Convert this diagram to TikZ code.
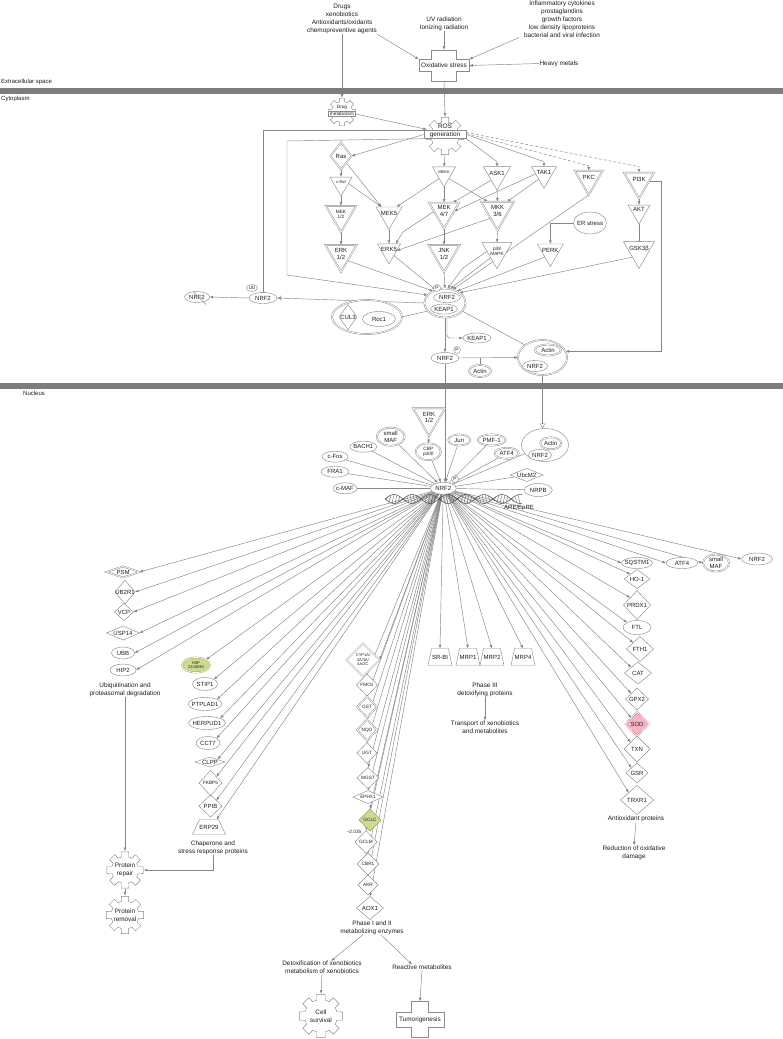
\documentclass[tikz,border=0pt]{standalone}
\usepackage{fontspec}
\setmainfont{Liberation Sans}
\usetikzlibrary{shapes.geometric,arrows.meta,calc}
\definecolor{lnc}{HTML}{858585}
\definecolor{ndc}{HTML}{8C8C8C}
\definecolor{txc}{HTML}{1E1E1E}
\definecolor{barc}{HTML}{7D7D7D}
\definecolor{grf}{HTML}{CBDC90}
\definecolor{grd}{HTML}{A89F50}
\definecolor{pkf}{HTML}{F5B5C3}
\definecolor{pkd}{HTML}{DD7088}
\definecolor{hxc}{HTML}{4A4A4A}
\newcommand{\fntA}{\fontsize{6.4}{8}\selectfont}
\newcommand{\fntB}{\fontsize{6}{6.8}\selectfont}
\newcommand{\fntC}{\fontsize{4}{4.5}\selectfont}
\newcommand{\fntE}{\fontsize{4.7}{5.3}\selectfont}
\newcommand{\fntD}{\fontsize{6}{7}\selectfont}
\pgfdeclarelayer{bg}
\pgfsetlayers{bg,main}
\newcommand{\gnode}[5][]{\node[#2,label={[lb,#1]center:{#5}}] (#3) at (#4) {};}
\newcommand{\mygear}[4]{%
  \draw[gearst] ({#1+#4*cos(-15)},{#2+#4*sin(-15)})
    \foreach \a in {0,45,...,315}{
      -- ({#1+#4*cos(\a-15)},{#2+#4*sin(\a-15)})
      -- ({#1+#3*cos(\a-11)},{#2+#3*sin(\a-11)})
      -- ({#1+#3*cos(\a+11)},{#2+#3*sin(\a+11)})
      -- ({#1+#4*cos(\a+15)},{#2+#4*sin(\a+15)})
    } -- cycle;}
\newcommand{\mycross}[6]{%
  \draw[gearst] ({#1-#5},{#2-#6}) -- ({#1+#5},{#2-#6}) -- ({#1+#5},{#2-#4}) -- ({#1+#3},{#2-#4}) -- ({#1+#3},{#2+#4}) -- ({#1+#5},{#2+#4}) -- ({#1+#5},{#2+#6}) -- ({#1-#5},{#2+#6}) -- ({#1-#5},{#2+#4}) -- ({#1-#3},{#2+#4}) -- ({#1-#3},{#2-#4}) -- ({#1-#5},{#2-#4}) -- cycle;}
\begin{document}
\begin{tikzpicture}[x=1pt,y=-1pt,
  nd/.style={draw=ndc, fill=white, line width=0.45pt, inner sep=0pt, outer sep=0pt},
  el/.style 2 args={nd, ellipse, minimum width=#1pt, minimum height=#2pt},
  dbl/.style={double=white, double distance=0.75pt},
  del/.style 2 args={el={#1}{#2}, dbl},
  tri/.style={nd, regular polygon, regular polygon sides=3, shape border rotate=180, minimum size=#1pt},
  dtri/.style={tri=#1, dbl},
  dia/.style 2 args={nd, diamond, minimum width=#1pt, minimum height=#2pt},
  ddia/.style 2 args={dia={#1}{#2}, dbl},
  trap/.style n args={3}{nd, trapezium, inner sep=1pt, trapezium left angle=#3, trapezium right angle=#3, trapezium stretches=true, minimum width=#1pt, minimum height=#2pt},
  pc/.style={nd, circle, minimum size=#1pt},
  lb/.style={font=\fntB, text=txc, inner sep=0pt, align=center},
  txt/.style={font=\fntA, text=txc, inner sep=0pt, align=center},
  inv/.style={circle, inner sep=0pt, minimum size=#1pt},
  gearst/.style={draw=ndc, fill=white, line width=0.45pt},
  ln/.style={draw=lnc, line width=0.45pt},
  arr/.style={ln, -{Latex[length=3.6pt,width=2.8pt]}},
  inh/.style={ln, -{Bar[width=5pt,line width=0.7pt]}},
  arrbar/.style={ln, -{Bar[width=5pt,line width=0.6pt] Latex[length=3.6pt,width=2.8pt]}},
  otri/.style={ln, -{Triangle[open,length=5pt,width=5pt]}},
  dsh/.style={dash pattern=on 3pt off 2pt},
  hx/.style={draw=hxc, line width=0.5pt}
]
\useasboundingbox (0,0) rectangle (783,1039);

% ---------- membranes ----------
\fill[barc] (0,87.5) rectangle (783,93.5);
\fill[barc] (0,382.5) rectangle (783,388.5);
\node[anchor=west, font=\fntD, text=txc, inner sep=0pt] (lex) at (1,82) {Extracellular space};
\node[anchor=west, font=\fntD, text=txc, inner sep=0pt] (lcy) at (1,99) {Cytoplasm};
\node[anchor=west, font=\fntD, text=txc, inner sep=0pt] (lnu) at (23,393) {Nucleus};

% ---------- top ----------
\node[txt] (drugs) at (342,19) {Drugs\\xenobiotics\\Antioxidants/oxidants\\chemopreventive agents};
\node[txt] (uv) at (444,24) {UV radiation\\Ionizing radiation};
\node[txt] (infl) at (562,19) {Inflammatory cytokines\\prostaglandins\\growth factors\\low density lipoproteins\\bacterial and viral infection};
\node[txt] (heavy) at (559,63.5) {Heavy metals};
\mycross{444}{65.5}{25}{6}{12.5}{15.5}
\node[txt, minimum width=50pt, minimum height=12pt] (ox) at (444,65.5) {Oxidative stress};

\mygear{342}{112}{14}{10.5}
\node[inv=28] (drugm) at (342,112) {};
\node[txt, font=\fntE] (drugt) at (342,107.5) {Drug};
\node[txt, font=\fntE, draw=ndc, fill=white, inner xsep=1.5pt, inner ysep=0.6pt] (drugmb) at (342,114) {metabolism};

\mygear{445}{136}{19}{14}
\node[inv=38] (rosg) at (445,136) {};
\node[txt] (rost) at (445,126.5) {ROS};
\node[txt, draw=ndc, fill=white, inner xsep=6pt, inner ysep=1pt] (rosb) at (445,134.5) {generation};

% ---------- cytoplasm kinases ----------
\gnode{ddia={21}{27}}{ras}{341,156}{Ras}
\gnode[font=\fntC,yshift=1.5pt]{tri=25.4}{craf}{341,183.4}{c-Raf}
\gnode[font=\fntE]{dtri=34.6}{mek12}{341,214.7}{MEK\\1/2}
\gnode{dtri=35.8}{erk12}{341,254}{ERK\\1/2}
\gnode[yshift=1.5pt]{tri=30}{mek5}{389,214.5}{MEK5}
\gnode[yshift=1.5pt]{tri=26.6}{erk5}{389,250.6}{ERK5}
\gnode[font=\fntC,yshift=1.5pt]{tri=26.6}{mekk}{444,173.6}{MEKK}
\gnode{dtri=34.6}{mek47}{444,211.3}{MEK\\4/7}
\gnode{dtri=35.8}{jnk}{444,254}{JNK\\1/2}
\gnode[yshift=1.5pt]{tri=31.2}{ask1}{497,174.5}{ASK1}
\gnode{dtri=38.1}{mkk36}{497.5,211.2}{MKK\\3/6}
\gnode[font=\fntE]{tri=34.6}{p38}{497,251.3}{p38\\MAPK}
\gnode[yshift=1.5pt]{tri=28.9}{tak1}{544,173.9}{TAK1}
\gnode[yshift=1.5pt]{dtri=32.3}{pkc}{588.7,178.8}{PKC}
\gnode[yshift=1.5pt]{dtri=34.6}{pi3k}{639,181.3}{PI3K}
\gnode[yshift=1.5pt]{tri=25.4}{akt}{639,211.4}{AKT}
\gnode[yshift=1.5pt]{tri=35.8}{gsk}{639,250.6}{GSK3β}
\gnode[yshift=1.5pt]{tri=30}{perk}{550.3,251.5}{PERK}
\gnode{el={33}{22}}{ers}{590,223}{ER stress}

% ---------- complexes ----------
\gnode{el={28}{11}}{nrf2ub}{263,298}{NRF2}
\gnode[font=\fntE]{el={11}{7}}{ub}{252,288}{Ub}
\gnode{el={25}{11}}{nrf2x}{197,297}{NRF2}
\draw[ndc, line width=0.45pt] ([xshift=-4pt]nrf2x.north) -- ([xshift=9pt,yshift=-2pt]nrf2x.south);
\node[del={41}{29}] (cplx) at (445,303) {};
\gnode{el={27}{10}}{keapin}{444,309}{KEAP1}
\gnode{el={27}{10}}{nrf2in}{447,297.5}{NRF2}
\gnode[font=\fntE]{pc=7}{p1}{437,288}{P}
\node[del={70}{34}] (cul3c) at (367,317) {};
\gnode{dia={18}{25}}{cul3}{348,317}{CUL3}
\gnode{el={33}{15}}{roc1}{379,319}{Roc1}
\gnode{el={28}{10}}{keap1f}{477,338}{KEAP1}
\gnode{el={28}{11}}{nrf2p}{445,358}{NRF2}
\gnode[font=\fntE]{pc=7}{p2}{457,350}{P}
\gnode{del={22}{12}}{actin1}{480,371}{Actin}
\node[del={49}{35}] (acomp) at (542.5,357.5) {};
\gnode{del={26}{11}}{actin2}{548,350}{Actin}
\gnode{el={25}{11}}{nrf2c}{535,366}{NRF2}

% ---------- nucleus ----------
\gnode{dtri=37}{erkn}{429,417.5}{ERK\\1/2}
\gnode[font=\fntE]{del={25}{17}}{cbp}{428.3,451.7}{CBP\\p300}
\gnode{del={28}{18}}{smaf}{390.7,436.7}{small\\MAF}
\gnode{el={27}{11}}{bach1}{363.3,446.7}{BACH1}
\gnode{el={26}{11}}{cfos}{335,456.7}{c-Fos}
\gnode{el={28}{11}}{fra1}{335,471.7}{FRA1}
\gnode{el={24}{11}}{cmaf}{345,488.3}{c-MAF}
\gnode{del={22}{11}}{jun}{459.3,440}{Jun}
\gnode{del={28}{11}}{pmf1}{491.7,440}{PMF-1}
\gnode{del={24}{11}}{atf4n}{506.7,453.3}{ATF4}
\node[el={47}{33}] (acn) at (545,445) {};
\gnode{del={21}{12}}{actin3}{550.7,443.3}{Actin}
\gnode{el={23}{11}}{nrf2d}{540,455}{NRF2}
\gnode{dia={33}{13}}{ubcm2}{526.7,475}{UbcM2}
\gnode{el={28}{13}}{nrpb}{538.3,490}{NRPB}
\gnode{el={26}{12}}{nrf2n}{443.3,488.3}{NRF2}
\gnode[font=\fntE]{pc=7}{p3}{455,479}{P}

% helix
\draw[hx] plot[domain=385:522, samples=150] (\x,{499+4.5*sin(10*(\x-385))});
\draw[hx] plot[domain=385:522, samples=150] (\x,{499-4.5*sin(10*(\x-385))});
\foreach \xx in {386,389,...,520} {\draw[hx, line width=0.3pt] (\xx,{499+4.5*sin(10*(\xx-385))}) -- (\xx+2,{499-4.5*sin(10*(\xx+2-385))});}
\node[lb] (are) at (519,508) {ARE/EpRE};

% ---------- ubiquitination ----------
\gnode{ddia={33}{11}}{psm}{123,572}{PSM}
\gnode{dia={20}{24}}{ub2r1}{125,592}{UB2R1}
\gnode{dia={19}{17}}{vcp}{124,612}{VCP}
\gnode{dia={33}{14}}{usp14}{123,633}{USP14}
\gnode{el={23}{12}}{ubb}{123,653}{UBB}
\gnode{el={26}{12}}{hip2}{123,670}{HIP2}
\node[txt] (ubt) at (125,690) {Ubiquitination and\\proteasomal degradation};

% ---------- chaperones ----------
\gnode[font=\fntC]{del={28}{15},fill=grf,draw=grd}{hsp}{196,665}{HSP\\22/40/90}
\gnode{el={25}{13}}{stip1}{205,684}{STIP1}
\gnode{el={34}{13}}{ptplad1}{205,704}{PTPLAD1}
\gnode{el={37}{13}}{herpud1}{207,723}{HERPUD1}
\gnode{el={24}{13}}{cct7}{208,743}{CCT7}
\gnode{dia={30}{10}}{clpp}{210,762}{CLPP}
\gnode[font=\fntE]{dia={23}{25}}{fkbp5}{210.5,783}{FKBP5}
\gnode{dia={23}{22}}{ppib}{210.5,806}{PPIB}
\gnode{trap={33}{15}{70}}{erp29}{209,827}{ERP29}
\node[txt] (chapt) at (213,847.5) {Chaperone and\\stress response proteins};

\mygear{125}{870}{18.5}{13.5}
\node[inv=37] (prep) at (125,870) {};
\node[txt] (prept) at (125,870) {Protein\\repair};
\mygear{125}{915}{19}{14}
\node[inv=38] (prem) at (125,915) {};
\node[txt] (premt) at (125,915) {Protein\\removal};

% ---------- phase I/II ----------
\gnode[font=\fntC]{ddia={33}{33}}{cyp}{363,660}{CYP1A/\\2A/3A/\\4A/2C}
\gnode[font=\fntE]{dia={21}{22}}{fmo1}{367,685}{FMO1}
\gnode[font=\fntE]{ddia={20}{21}}{gst}{367,707}{GST}
\gnode[font=\fntE]{ddia={20}{21}}{nqo}{367,730}{NQO}
\gnode[font=\fntE]{dia={20}{21}}{ugt}{367,753}{UGT}
\gnode[font=\fntE]{dia={22}{21}}{mgst}{368,778}{MGST}
\gnode[font=\fntE]{dia={30}{13}}{ephx1}{368,797}{EPHX1}
\gnode[font=\fntE]{dia={22}{22},fill=grf,draw=grd}{gclc}{370,820}{GCLC}
\node[txt, font=\fntE] (fc) at (354,832) {−2.035};
\gnode[font=\fntE]{dia={22}{23}}{gclm}{366,842}{GCLM}
\gnode[font=\fntE]{dia={22}{22}}{cbr1}{368,864}{CBR1}
\gnode[font=\fntE]{dia={20}{20}}{akr}{368,885}{AKR}
\gnode{dia={27}{23}}{aox1}{370,908}{AOX1}
\node[txt] (ph12t) at (372,927.5) {Phase I and II\\metabolizing enzymes};
\node[txt] (detox) at (322,967.5) {Detoxification of xenobiotics\\metabolism of xenobiotics};
\node[txt] (react) at (422,967) {Reactive metabolites};
\mygear{321}{1016}{22}{16.5}
\node[inv=44] (cells) at (321,1016) {};
\node[txt] (cellst) at (321,1016) {Cell\\survival};
\mycross{420}{1019.5}{24}{7.5}{8.3}{18}
\node[txt, minimum width=48pt, minimum height=15pt] (tumor) at (420,1019.5) {Tumorigenesis};

% ---------- phase III ----------
\gnode{trap={24}{17}{78}}{srbi}{440,657}{SR-BI}
\gnode{trap={24}{17}{78}}{mrp1}{468,657}{MRP1}
\gnode{trap={24}{17}{78}}{mrp2}{492,657}{MRP2}
\gnode{trap={24}{17}{78}}{mrp4}{523,657}{MRP4}
\node[txt] (ph3t) at (485,689.5) {Phase III\\detoxifying proteins};
\node[txt] (transp) at (485,727) {Transport of xenobiotics\\and metabolites};

% ---------- antioxidant ----------
\gnode{el={31}{11}}{sqstm1}{637,563}{SQSTM1}
\gnode{el={32}{11}}{atf4r}{682,563}{ATF4}
\gnode{del={26}{17}}{smafr}{716,563}{small\\MAF}
\gnode{el={31}{12}}{nrf2r}{757,559}{NRF2}
\gnode{dia={26}{19}}{ho1}{637,579}{HO-1}
\gnode{dia={27}{29}}{prdx1}{637,605}{PRDX1}
\gnode{el={28}{14}}{ftl}{637,627.5}{FTL}
\gnode{dia={27}{25}}{fth1}{640,649}{FTH1}
\gnode{dia={27}{22}}{cat}{638,673}{CAT}
\gnode{dia={23}{22}}{gpx2}{637,699}{GPX2}
\gnode{ddia={23}{24},fill=pkf,draw=pkd}{sod}{637,724}{SOD}
\gnode{dia={26}{26}}{txn}{637,749}{TXN}
\gnode{dia={22}{20}}{gsr}{637,773}{GSR}
\gnode{dia={33}{29}}{trxr1}{637,800}{TRXR1}
\node[txt] (antiox) at (636,819) {Antioxidant proteins};
\node[txt] (reduct) at (634,852.5) {Reduction of oxidative\\damage};

% =================== connectors ===================
\begin{pgfonlayer}{bg}
\fill[white] (0,0) rectangle (783,1039);
\draw[arr] (drugs.south east) -- (ox.north west);
\draw[arr] (uv.south) -- ([yshift=9.5pt]ox.north);
\draw[arr] ([xshift=-5pt]infl.south west) -- (ox.north east);
\draw[arr] (heavy.west) -- (ox.east);
\draw[arr] (drugs.south) -- (drugm.north);
\draw[arr] ([yshift=-9.5pt]ox.south) -- (rosg.north);
\draw[arr] (drugmb.east) -- (rosg.160);
\draw[arr] (rosb.west) -- (ras.east);
\draw[inh] (rosb.north west) -| (nrf2ub.north);
\draw[arr] (rosb.south west) -- (287,141) -- (287,275) -- (cplx.155);
\draw[arr] (rosg.south) -- (mekk.north);
\draw[arr] (rosb.south east) -- ([yshift=5pt]ask1.north) -- (ask1.north);
\draw[arr] (rosb.east) -- ([yshift=5pt]tak1.north) -- (tak1.north);
\draw[arr,dsh] ([yshift=1pt]rosb.east) -- ([yshift=5pt]pkc.north) -- (pkc.north);
\draw[arr,dsh] ([yshift=2pt]rosb.east) -- ([yshift=6pt]pi3k.north) -- (pi3k.north);

\draw[arr] (ras.south) -- (craf.north);
\draw[arr] (ras.south east) -- (mek5.north west);
\draw[arr] (craf.east) -- (mek5.north west);
\draw[arr] (craf.south) -- (mek12.north);
\draw[arr] (mek12.south) -- (erk12.north);
\draw[arr] (mekk.south west) -- (mek5.north east);
\draw[arr] (mekk.south) -- (mek47.north);
\draw[arr] (mekk.south east) -- (mkk36.north west);
\draw[arr] (ask1.south west) -- (mek47.north east);
\draw[arr] (ask1.south) -- (mkk36.north);
\draw[arr] (tak1.west) -- (mek47.east);
\draw[arr] (tak1.south west) -- (mkk36.north east);
\draw[arr] (mek5.south) -- (erk5.north);
\draw[arr] (mek47.west) -- (403,232) -- (erk5.north east);
\draw[arr] (mkk36.south west) -- (erk5.east);
\draw[arr] (mek47.south) -- (jnk.north);
\draw[arr] (mkk36.south) -- (p38.north);
\draw[arr] (ers.west) -| (perk.north);
\draw[arr] (pi3k.south) -- (akt.north);
\draw[inh] (akt.south) -- (gsk.north);
\draw[arr] (pi3k.east) -- ++(12,0) |- (acomp.15);

\draw[arr] (erk12.south east) -- (cplx.135);
\draw[arr] (erk5.south east) -- (cplx.125);
\draw[arr] (jnk.south) -- (cplx.north);
\draw[arr] (p38.south west) -- (cplx.70);
\draw[arr] (p38.west) -- (463,268) -- (cplx.80);
\draw[arr] (pkc.south) -- (cplx.60);
\draw[arr] (perk.south west) -- (cplx.45);
\draw[arr] (gsk.south west) -- (cplx.35);

\draw[arrbar] (cplx.west) -- (nrf2ub.east);
\draw[arr] (nrf2ub.west) -- (nrf2x.east);
\draw[ln] (cul3c.east) -- (cplx.205);
\draw[arr, rounded corners=3pt] ([xshift=2pt]cplx.south) |- (keap1f.west);
\draw[arr] (cplx.south) -- (nrf2p.north);
\draw[ln] (cplx.-25) -- (acomp.north west);
\draw[arr] (nrf2p.east) -- (acomp.west);
\draw[ln] (actin1.north) -- (actin1.north |- nrf2p.east);
\draw[arr] (nrf2p.south) -- (nrf2p.south |- nrf2n.north);
\draw[otri] (acomp.south) -- (acomp.south |- acn.north);

\draw[arr] (erkn.south) -- (cbp.north);
\draw[arr] (cbp) -- (nrf2n);
\draw[arr] (jun) -- (nrf2n);
\draw[arr] (smaf) -- (nrf2n);
\foreach \s in {bach1,cfos,fra1,cmaf,pmf1,atf4n,acn,ubcm2,nrpb} {\draw[ln] (\s) -- (nrf2n);}

\foreach \t/\an in {psm/east,ub2r1/east,vcp/east,usp14/east,ubb/east,hip2/east,
  hsp/north east,stip1/north east,ptplad1/north east,herpud1/north east,cct7/north east,clpp/north east,fkbp5/north east,ppib/north east,erp29/north east,
  cyp/east,fmo1/north,gst/north,nqo/north,ugt/north,mgst/north,ephx1/north,gclc/north,gclm/north,cbr1/north,akr/north,aox1/north,
  srbi/north,mrp1/north,mrp2/north,mrp4/north,
  sqstm1/west,atf4r/west,smafr/west,nrf2r/west,ho1/north west,prdx1/north west,ftl/north west,fth1/north west,cat/north west,gpx2/north west,sod/north west,txn/north west,gsr/north west,trxr1/north west}
  {\draw[arr] (nrf2n) -- (\t.\an);}

\draw[arr] (ubt.south) -- (prep.north);
\draw[arr] (chapt.south) |- (prep.east);
\draw[arr] (prep.south) -- (prem.north);
\draw[arr] ([xshift=-9pt]ph12t.south) -- ([xshift=9pt]detox.north);
\draw[arr] ([xshift=9pt]ph12t.south) -- ([xshift=-10pt]react.north);
\draw[arr] (detox.south) -- (cells.north);
\draw[arr] (react.south) -- ([yshift=10.5pt]tumor.north);
\draw[arr] (ph3t.south) -- (transp.north);
\draw[arr] (antiox.south) -- (reduct.north);
\end{pgfonlayer}
\end{tikzpicture}
\end{document}
